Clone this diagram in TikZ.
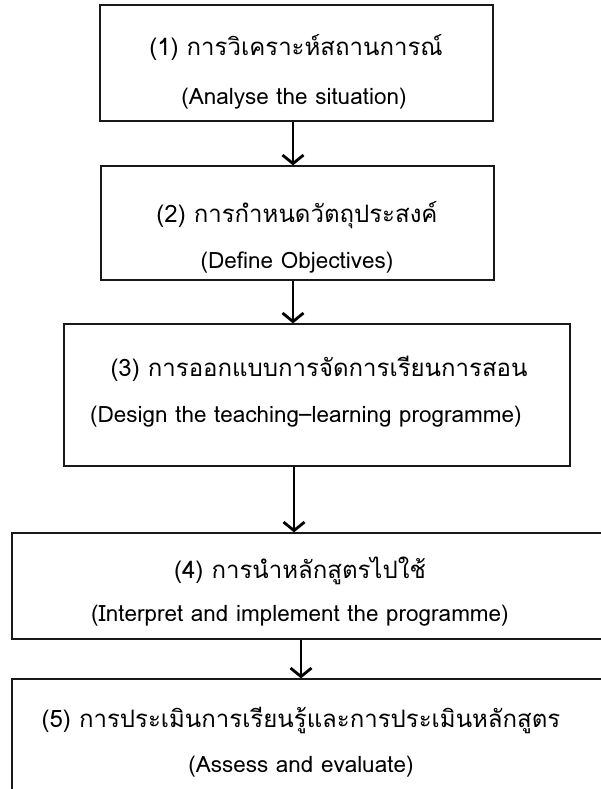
\documentclass[tikz,border=0pt]{standalone}
\usepackage{fontspec}
\setmainfont[Script=Thai]{Loma}
\usetikzlibrary{arrows.meta}
\begin{document}
\begin{tikzpicture}[x=1pt,y=-1pt,
  box/.style={draw=black!90,line width=1.3pt,rectangle,inner sep=0pt},
  lbl/.style={anchor=base,inner sep=0pt},
  th/.style={lbl,font=\fontsize{24}{28}\selectfont},
  en/.style={lbl,font=\fontsize{22.5}{26}\selectfont},
  arr/.style={line width=2.8pt,-{Straight Barb[length=8.5pt,width=21pt]}}]
\clip (0,0) rectangle (601,789);
\fill[white] (0,0) rectangle (601,789);
% boxes
\node[box,minimum width=393,minimum height=116] (b1) at (296.5,63) {};
\node[box,minimum width=393,minimum height=114] (b2) at (297.5,223) {};
\node[box,minimum width=506,minimum height=142] (b3) at (317,395) {};
\node[box,minimum width=628,minimum height=106] (b4) at (326,586) {};
\node[box,minimum width=628,minimum height=141] (b5) at (326,749.5) {};
% texts
\node[th] (t1a) at (296,56) {(1) การวิเคราะห์สถานการณ์};
\node[en] (t1b) at (294,105) {(Analyse the situation)};
\node[th] (t2a) at (297,222) {(2) การกำหนดวัตถุประสงค์};
\node[en] (t2b) at (297,268) {(Define Objectives)};
\node[th] (t3a) at (319,376) {(3) การออกแบบการจัดการเรียนการสอน};
\node[en] (t3b) at (306,422) {(Design the teaching--learning programme)};
\node[th] (t4a) at (300,578) {(4) การนำหลักสูตรไปใช้};
\node[en] (t4b) at (300,621) {(Interpret and implement the programme)};
\node[th] (t5a) at (301,727) {(5) การประเมินการเรียนรู้และการประเมินหลักสูตร};
\node[en] (t5b) at (301,772) {(Assess and evaluate)};
% arrows
\coordinate (x1) at (293,0);
\coordinate (x3) at (294,0);
\coordinate (x4) at (301,0);
\draw[arr] (b1.south -| x1) -- (b2.north -| x1);
\draw[arr] (b2.south -| x1) -- (b3.north -| x1);
\draw[arr] (b3.south -| x3) -- (b4.north -| x3);
\draw[arr] (b4.south -| x4) -- (b5.north -| x4);
\end{tikzpicture}
\end{document}
